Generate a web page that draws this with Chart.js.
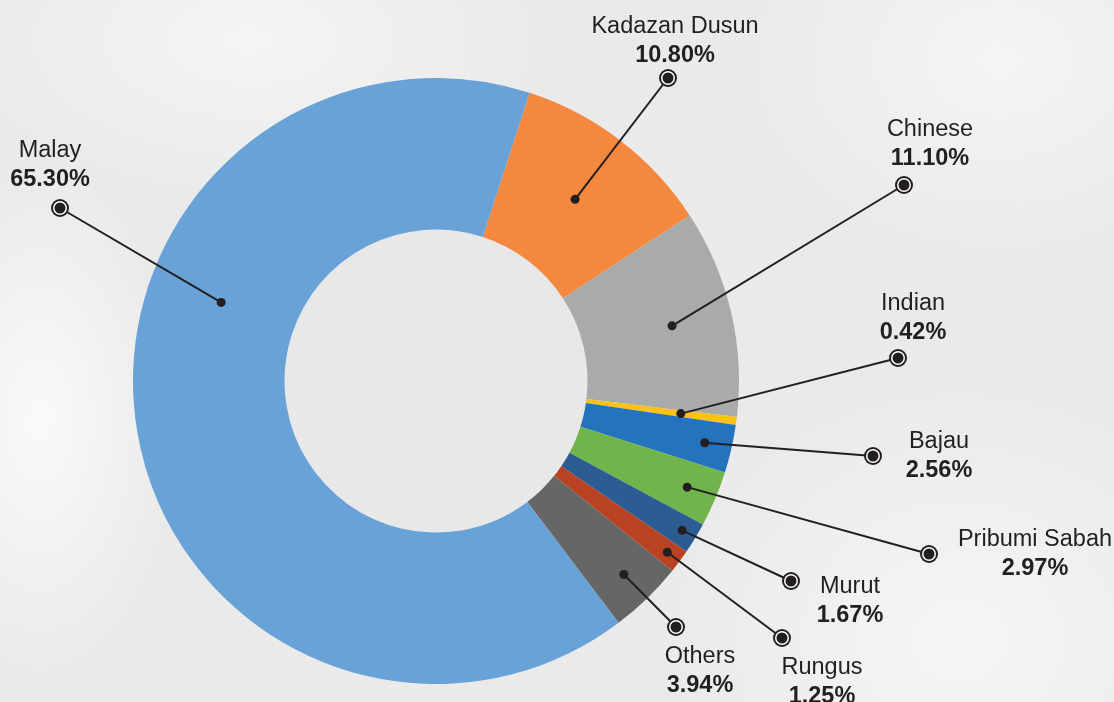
<!DOCTYPE html>
<html>
<head>
<meta charset="utf-8">
<script src="https://cdn.jsdelivr.net/npm/chart.js@4.4.0/dist/chart.umd.min.js"></script>
<style>
html, body { margin: 0; padding: 0; }
body {
  width: 1114px; height: 702px; overflow: hidden;
  font-family: "Liberation Sans", Arial, sans-serif;
  background:
    radial-gradient(ellipse 140px 260px at 40px 420px, rgba(255,255,255,0.75), rgba(255,255,255,0) 100%),
    radial-gradient(ellipse 300px 160px at 250px 40px, rgba(255,255,255,0.5), rgba(255,255,255,0) 100%),
    radial-gradient(ellipse 260px 200px at 1000px 60px, rgba(255,255,255,0.5), rgba(255,255,255,0) 100%),
    radial-gradient(ellipse 300px 260px at 960px 640px, rgba(255,255,255,0.55), rgba(255,255,255,0) 100%),
    #eaeaeb;
}
canvas { display: block; }
.warm { position: absolute; left: -999px; top: 0; }
</style>
</head>
<body>
<span class="warm">Malay <b>65.30%</b></span>
<canvas id="donut" width="1114" height="702"></canvas>
<script>
// ethnic composition, clockwise starting from Kadazan Dusun
const groups = ['Kadazan Dusun', 'Chinese', 'Indian', 'Bajau', 'Pribumi Sabah', 'Murut', 'Rungus', 'Others', 'Malay'];
const shares = [10.80, 11.10, 0.42, 2.56, 2.97, 1.67, 1.25, 3.94, 65.30];
const sliceColors = ['#f4883f', '#a9abaa', '#fbc113', '#2473bd', '#71b44b', '#2b5d93', '#b84222', '#666666', '#68a2d6'];

// callout layout (pixels): ring marker and label centre, plus where the dot sits in the slice
const markerPos = [[668, 78], [904, 185], [898, 358], [873, 456], [929, 554], [791, 581], [782, 638], [676, 627], [60, 208]];
const labelPos = [[675, 27], [930, 130], [913, 304], [939, 442], [1035, 540], [850, 587], [822, 668], [700, 657], [50, 151]];
const dotAlong = [0.5, 0.5, 0.5, 0.5, 0.5, 0.5, 0.5, 0.5, 0.626];
const dotDepth = [0.51, 0.6, 0.63, 0.82, 0.8, 0.9, 0.9, 0.78, 0.51];

const ink = '#231f20';
const fontFace = '"Liberation Sans", Arial, sans-serif';

const callouts = {
  id: 'callouts',
  afterDatasetsDraw(chart) {
    const ctx = chart.ctx;
    const arcs = chart.getDatasetMeta(0).data;
    ctx.save();
    arcs.forEach((arc, i) => {
      const p = arc.getProps(['x', 'y', 'startAngle', 'endAngle', 'innerRadius', 'outerRadius'], true);
      const a = p.startAngle + (p.endAngle - p.startAngle) * dotAlong[i];
      const r = p.innerRadius + (p.outerRadius - p.innerRadius) * dotDepth[i];
      const dx = p.x + Math.cos(a) * r;
      const dy = p.y + Math.sin(a) * r;
      const mx = markerPos[i][0], my = markerPos[i][1];

      ctx.strokeStyle = ink;
      ctx.lineWidth = 2;
      ctx.beginPath();
      ctx.moveTo(dx, dy);
      ctx.lineTo(mx, my);
      ctx.stroke();

      ctx.fillStyle = ink;
      ctx.beginPath();
      ctx.arc(dx, dy, 4.5, 0, Math.PI * 2);
      ctx.fill();

      // ringed end marker
      ctx.beginPath();
      ctx.arc(mx, my, 9, 0, Math.PI * 2);
      ctx.fill();
      ctx.fillStyle = '#ffffff';
      ctx.beginPath();
      ctx.arc(mx, my, 7, 0, Math.PI * 2);
      ctx.fill();
      ctx.fillStyle = ink;
      ctx.beginPath();
      ctx.arc(mx, my, 5.5, 0, Math.PI * 2);
      ctx.fill();

      const lx = labelPos[i][0], ly = labelPos[i][1];
      ctx.textAlign = 'center';
      ctx.textBaseline = 'middle';
      ctx.fillStyle = ink;
      ctx.font = '23.5px ' + fontFace;
      ctx.fillText(groups[i], lx, ly);
      ctx.font = 'bold 23.5px ' + fontFace;
      ctx.fillText(shares[i].toFixed(2) + '%', lx, ly + 29);
    });
    ctx.restore();
  }
};

const holeFill = {
  id: 'holeFill',
  beforeDatasetsDraw(chart) {
    const arc = chart.getDatasetMeta(0).data[0];
    if (!arc) return;
    const ctx = chart.ctx;
    ctx.save();
    ctx.fillStyle = '#e8e8e8';
    ctx.beginPath();
    ctx.arc(arc.x, arc.y, arc.innerRadius, 0, Math.PI * 2);
    ctx.fill();
    ctx.restore();
  }
};

const dataDonut = {
  labels: groups,
  datasets: [{
    data: shares,
    backgroundColor: sliceColors,
    borderWidth: 0,
    hoverOffset: 0
  }]
};

const configDonut = {
  type: 'doughnut',
  data: dataDonut,
  options: {
    responsive: false,
    animation: false,
    cutout: '50%',
    rotation: 18,
    layout: { padding: { left: 133, right: 375, top: 78, bottom: 18 } },
    plugins: {
      legend: { display: false },
      tooltip: { enabled: false }
    }
  },
  plugins: [holeFill, callouts]
};

var donutChart;
Promise.all([
  document.fonts.load('23.5px "Liberation Sans"'),
  document.fonts.load('bold 23.5px "Liberation Sans"')
]).catch(() => {}).then(() => {
  donutChart = new Chart(document.getElementById('donut'), configDonut);
});
</script>
</body>
</html>
